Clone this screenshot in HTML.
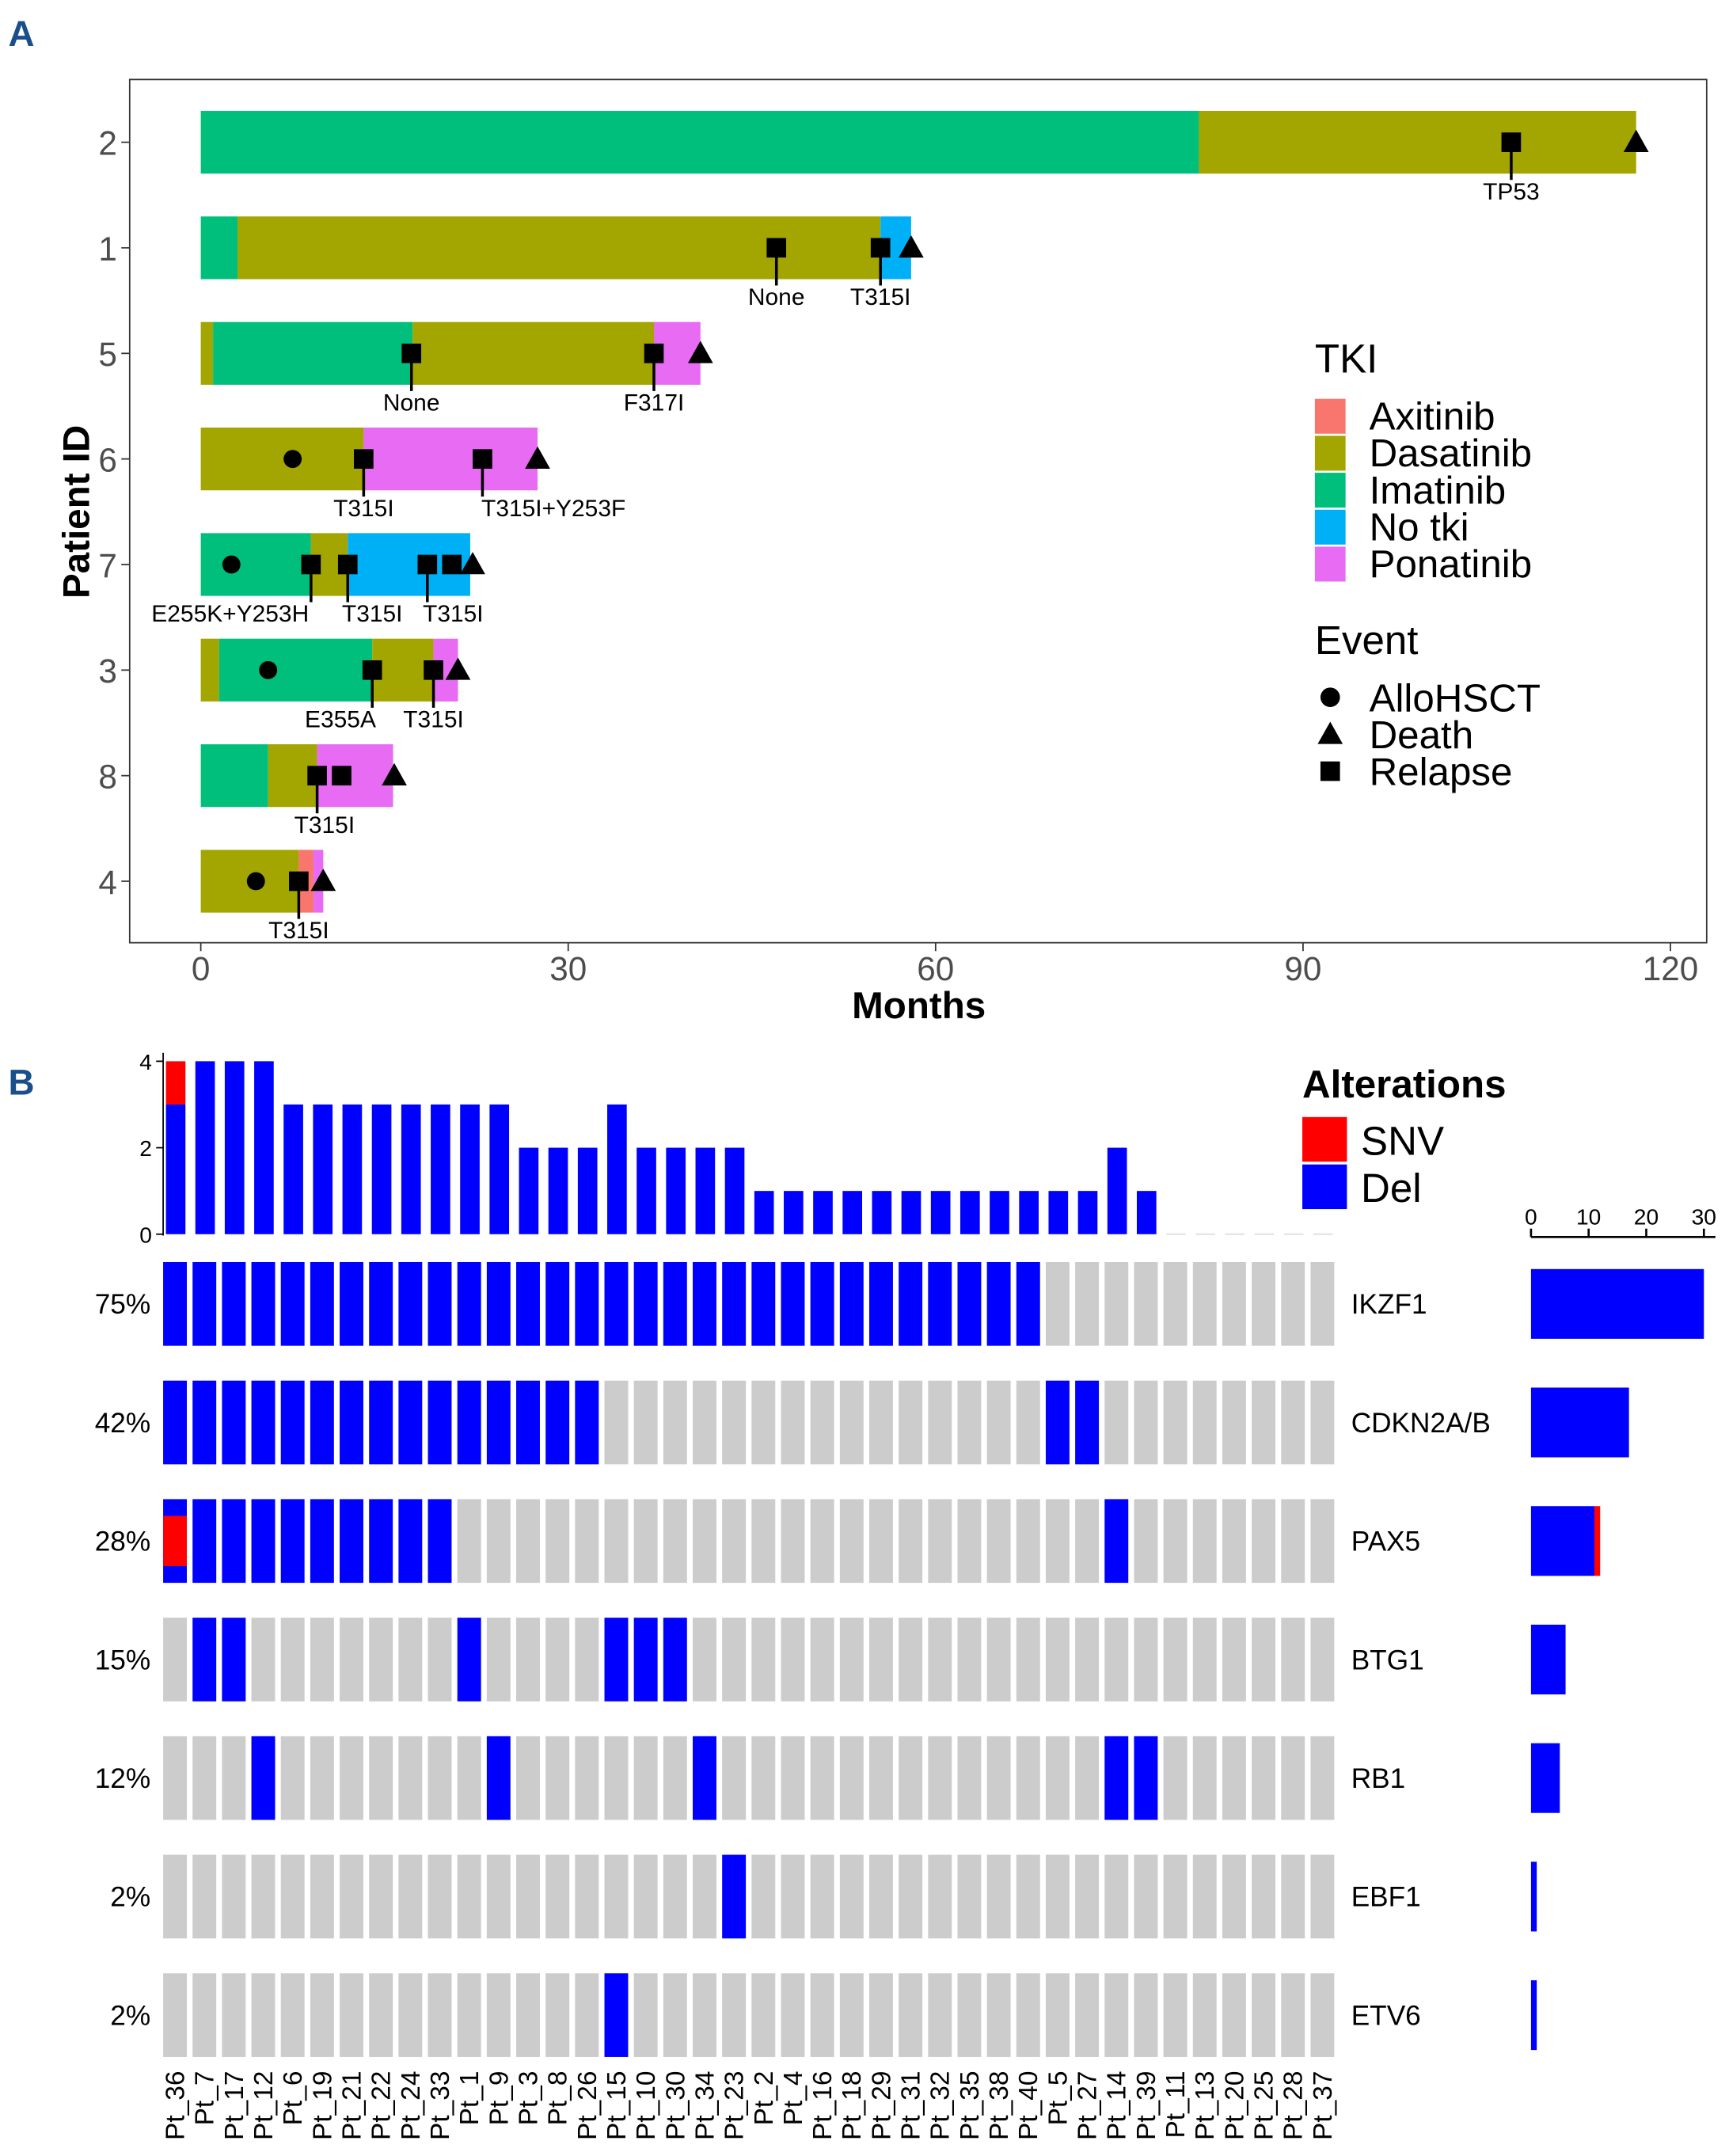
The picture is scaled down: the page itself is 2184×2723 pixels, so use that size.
<!DOCTYPE html>
<html><head><meta charset="utf-8"><style>
html,body{margin:0;padding:0;background:#fff}
svg{display:block}
text{font-family:"Liberation Sans",sans-serif}
</style></head><body>
<svg id="fig" xmlns="http://www.w3.org/2000/svg" width="2184" height="2723" viewBox="0 0 1240 1546" preserveAspectRatio="none">
<g id="A"></g>
<g id="B"></g>
</svg>
<script>
// ---- Panel A data ----
const patients = ["2","1","5","6","7","3","8","4"];
const segStarts = [[0,81.5],[0,3,55.5],[0,1,17.3,37],[0,13.3],[0,9,12],[0,1.5,14,19],[0,5.5,9.5],[0,8,9.2]];
const segEnds   = [[81.5,117.2],[3,55.5,58],[1,17.3,37,40.8],[13.3,27.5],[9,12,22],[1.5,14,19,21],[5.5,9.5,15.7],[8,9.2,10]];
const segTkis   = [["Imatinib","Dasatinib"],["Imatinib","Dasatinib","No tki"],["Dasatinib","Imatinib","Dasatinib","Ponatinib"],["Dasatinib","Ponatinib"],["Imatinib","Dasatinib","No tki"],["Dasatinib","Imatinib","Dasatinib","Ponatinib"],["Imatinib","Dasatinib","Ponatinib"],["Dasatinib","Axitinib","Ponatinib"]];
const alloTimes  = [[],[],[],[7.5],[2.5],[5.5],[],[4.5]];
const deathTimes = [117.2,58,40.8,27.5,22.2,21,15.8,10];
const relapseTimes = [[107],[47,55.5],[17.2,37],[13.3,23],[9,12,18.5,20.5],[14,19],[9.5,11.5],[8]];
const relapseLabels = [["TP53"],["None","T315I"],["None","F317I"],["T315I","T315I+Y253F"],["E255K+Y253H","T315I","T315I",""],["E355A","T315I"],["T315I",""],["T315I"]];
const labelPos = [[107],[47,55.5],[17.2,37],[13.3,28.8],[2.4,14,20.6,0],[11.4,19],[10.1,0],[8]];
const xTicks = [0,30,60,90,120];
const tkiNames = ["Axitinib","Dasatinib","Imatinib","No tki","Ponatinib"];
const tkiColors = {"Axitinib":"#F8766D","Dasatinib":"#A3A500","Imatinib":"#00BF7D","No tki":"#00B0F6","Ponatinib":"#E76BF3"};
const eventNames = ["AlloHSCT","Death","Relapse"];

// ---- Panel B data ----
const ptIds = ["Pt_36","Pt_7","Pt_17","Pt_12","Pt_6","Pt_19","Pt_21","Pt_22","Pt_24","Pt_33","Pt_1","Pt_9","Pt_3","Pt_8","Pt_26","Pt_15","Pt_10","Pt_30","Pt_34","Pt_23","Pt_2","Pt_4","Pt_16","Pt_18","Pt_29","Pt_31","Pt_32","Pt_35","Pt_38","Pt_40","Pt_5","Pt_27","Pt_14","Pt_39","Pt_11","Pt_13","Pt_20","Pt_25","Pt_28","Pt_37"];
const genes = ["IKZF1","CDKN2A/B","PAX5","BTG1","RB1","EBF1","ETV6"];
const delSets = [
 ["Pt_36","Pt_7","Pt_17","Pt_12","Pt_6","Pt_19","Pt_21","Pt_22","Pt_24","Pt_33","Pt_1","Pt_9","Pt_3","Pt_8","Pt_26","Pt_15","Pt_10","Pt_30","Pt_34","Pt_23","Pt_2","Pt_4","Pt_16","Pt_18","Pt_29","Pt_31","Pt_32","Pt_35","Pt_38","Pt_40"],
 ["Pt_36","Pt_7","Pt_17","Pt_12","Pt_6","Pt_19","Pt_21","Pt_22","Pt_24","Pt_33","Pt_1","Pt_9","Pt_3","Pt_8","Pt_26","Pt_5","Pt_27"],
 ["Pt_36","Pt_7","Pt_17","Pt_12","Pt_6","Pt_19","Pt_21","Pt_22","Pt_24","Pt_33","Pt_14"],
 ["Pt_7","Pt_17","Pt_1","Pt_15","Pt_10","Pt_30"],
 ["Pt_12","Pt_9","Pt_34","Pt_14","Pt_39"],
 ["Pt_23"],
 ["Pt_15"]];
const snvSets = [[],[],["Pt_36"],[],[],[],[]];
const topTicks = [0,2,4];
const sideTicks = [0,10,20,30];

const NS="http://www.w3.org/2000/svg";
function mk(parent,tag,attrs,txt){const e=document.createElementNS(NS,tag);for(const k in attrs)e.setAttribute(k,attrs[k]);if(txt!==undefined)e.textContent=txt;parent.appendChild(e);return e;}
function roundHalfEven(x){const f=Math.floor(x);const d=x-f;if(Math.abs(d-0.5)<1e-9)return (f%2===0)?f:f+1;return Math.round(x);}

// ===== Panel A =====
const A=document.getElementById('A');
const xA=m=>144+m*(1198-144)/120;
const rowY=i=>102+i*75.7;
let t=mk(A,'text',{x:6,y:33,'font-size':26,'font-weight':'bold',fill:'#1a4f8b'},'A');


let r=mk(A,'rect',{x:93,y:57,width:1131,height:619,fill:'none',stroke:'#333','stroke-width':1});


xTicks.forEach(v=>{
  let l=mk(A,'line',{x1:xA(v),x2:xA(v),y1:676,y2:682,stroke:'#333'});
  
  
  let tt=mk(A,'text',{x:xA(v),y:703,'font-size':24,'text-anchor':'middle',fill:'#4d4d4d'},String(v));
  
  
});
t=mk(A,'text',{x:659,y:730,'font-size':27,'font-weight':'bold','text-anchor':'middle'},'Months');


t=mk(A,'text',{x:0,y:0,'font-size':27,'font-weight':'bold','text-anchor':'middle',transform:'translate(64,367) rotate(-90)'},'Patient ID');


patients.forEach((p,i)=>{
  const y=rowY(i);
  let l=mk(A,'line',{x1:87,x2:93,y1:y,y2:y,stroke:'#333'});
  
  
  let tt=mk(A,'text',{x:84,y:y+9,'font-size':24,'text-anchor':'end',fill:'#4d4d4d'},p);
  
  
  const g=mk(A,'g',{});
  
  
  segStarts[i].forEach((s,j)=>{
    let b=mk(g,'rect',{x:xA(s),y:y-22.5,width:xA(segEnds[i][j])-xA(s),height:45,fill:tkiColors[segTkis[i][j]]});
    
    
  });
  relapseTimes[i].forEach((m,j)=>{
    const lab=relapseLabels[i][j];
    if(lab){
      let ln=mk(g,'line',{x1:xA(m),x2:xA(m),y1:y,y2:y+27,stroke:'#000','stroke-width':2});
      
      
      let lt=mk(g,'text',{x:xA(labelPos[i][j]),y:y+41,'font-size':17,'text-anchor':'middle'},lab);
      
      
    }
  });
  relapseTimes[i].forEach(m=>{
    let s=mk(g,'rect',{x:xA(m)-7,y:y-7,width:14,height:14,fill:'#000'});
    
    
  });
  alloTimes[i].forEach(m=>{
    let c=mk(g,'circle',{cx:xA(m),cy:y,r:6.5,fill:'#000'});
    
    
  });
  const dx=xA(deathTimes[i]);
  let tri=mk(g,'polygon',{points:`${dx-9},${y+7} ${dx+9},${y+7} ${dx},${y-9}`,fill:'#000'});
  
  
});
// legend A
const LA=mk(A,'g',{});


t=mk(LA,'text',{x:943,y:267,'font-size':29},'TKI');


tkiNames.forEach((n,k)=>{
  const y=298+k*26.5;
  let s=mk(LA,'rect',{x:943,y:y-12,width:22,height:25,fill:tkiColors[n]});
  
  
  let tx=mk(LA,'text',{x:982,y:y+10,'font-size':28},n);
  
  
});
t=mk(LA,'text',{x:943,y:469,'font-size':29},'Event');


eventNames.forEach((n,k)=>{
  const y=500+k*26.5, cx=954;
  let s;
  if(k===0) s=mk(LA,'circle',{cx:cx,cy:y,r:7,fill:'#000'});
  else if(k===1) s=mk(LA,'polygon',{points:`${cx-9},${y+7} ${cx+9},${y+7} ${cx},${y-9}`,fill:'#000'});
  else s=mk(LA,'rect',{x:cx-7,y:y-7,width:14,height:14,fill:'#000'});
  
  
  let tx=mk(LA,'text',{x:982,y:y+10,'font-size':28},n);
  
  
});

// ===== Panel B =====
const B=document.getElementById('B');
t=mk(B,'text',{x:6,y:785,'font-size':26,'font-weight':'bold',fill:'#1a4f8b'},'B');


const pitch=(961-117)/ptIds.length;
const colX=i=>117+i*pitch;
const cellW=17;
const rowTop=k=>905+k*85;
const cellH=60;
const yTop=v=>885-v*31;
const xSide=v=>1098+v*(124/30);
// top axis
let ax=mk(B,'line',{x1:117,x2:117,y1:755,y2:886,stroke:'#000'});


topTicks.forEach(v=>{
  let l=mk(B,'line',{x1:112,x2:117,y1:yTop(v),y2:yTop(v),stroke:'#000'});
  
  
  let tt=mk(B,'text',{x:109,y:yTop(v)+6,'font-size':16,'text-anchor':'end'},String(v));
  
  
});
ptIds.forEach((p,i)=>{
  let del=0,snv=0;
  genes.forEach((g,k)=>{if(delSets[k].includes(p))del++;if(snvSets[k].includes(p))snv++;});
  const x=colX(i)+2;
  if(del>0){
    let b=mk(B,'rect',{x:x,y:yTop(del),width:14,height:yTop(0)-yTop(del),fill:'#0000FF'});
    
    
  }
  if(snv>0){
    let b=mk(B,'rect',{x:x,y:yTop(del+snv),width:14,height:yTop(del)-yTop(del+snv),fill:'#FF0000'});
    
    
  }
  if(del+snv===0){
    let b=mk(B,'line',{x1:x,x2:x+14,y1:885,y2:885,stroke:'#ddd','stroke-width':1});
    
    
  }
  let lt=mk(B,'text',{x:0,y:0,'font-size':19,'text-anchor':'end',transform:`translate(${colX(i)+15},1485) rotate(-90)`},p);
  
  
});
// matrix
genes.forEach((g,k)=>{
  const y=rowTop(k);
  ptIds.forEach((p,i)=>{
    const x=colX(i);
    const d=delSets[k].includes(p), s=snvSets[k].includes(p);
    let c=mk(B,'rect',{x:x,y:y,width:cellW,height:cellH,fill:d?'#0000FF':'#CCCCCC'});
    
    
    if(s){
      let sr=mk(B,'rect',{x:x,y:y+cellH*0.2,width:cellW,height:cellH*0.6,fill:'#FF0000'});
      
      
    }
  });
  const nd=delSets[k].length, ns=snvSets[k].filter(p=>!delSets[k].includes(p)).length;
  const nAlt=nd+ns;
  let pct=mk(B,'text',{x:108,y:y+37,'font-size':20,'text-anchor':'end'},roundHalfEven(nAlt/ptIds.length*100)+'%');
  
  
  let gn=mk(B,'text',{x:969,y:y+37,'font-size':20},g);
  
  
  let sb=mk(B,'rect',{x:xSide(0),y:y+5,width:xSide(nd)-xSide(0),height:50,fill:'#0000FF'});
  
  
  const sn=snvSets[k].length;
  if(sn>0){
    let sr=mk(B,'rect',{x:xSide(nd),y:y+5,width:xSide(sn)-xSide(0),height:50,fill:'#FF0000'});
    
    
  }
});
// side axis
ax=mk(B,'line',{x1:xSide(0),x2:xSide(32),y1:887,y2:887,stroke:'#000','stroke-width':1.5});


sideTicks.forEach(v=>{
  let l=mk(B,'line',{x1:xSide(v),x2:xSide(v),y1:881,y2:887,stroke:'#000','stroke-width':1.5});
  
  
  let tt=mk(B,'text',{x:xSide(v),y:878,'font-size':16,'text-anchor':'middle'},String(v));
  
  
});
// legend B
t=mk(B,'text',{x:934,y:787,'font-size':28,'font-weight':'bold'},'Alterations');


[["SNV","#FF0000",801],["Del","#0000FF",835]].forEach(a=>{
  let s=mk(B,'rect',{x:934,y:a[2],width:32,height:32,fill:a[1]});
  
  
  let tx=mk(B,'text',{x:976,y:a[2]+27,'font-size':29},a[0]);
  
  
});
</script>
</body></html>
